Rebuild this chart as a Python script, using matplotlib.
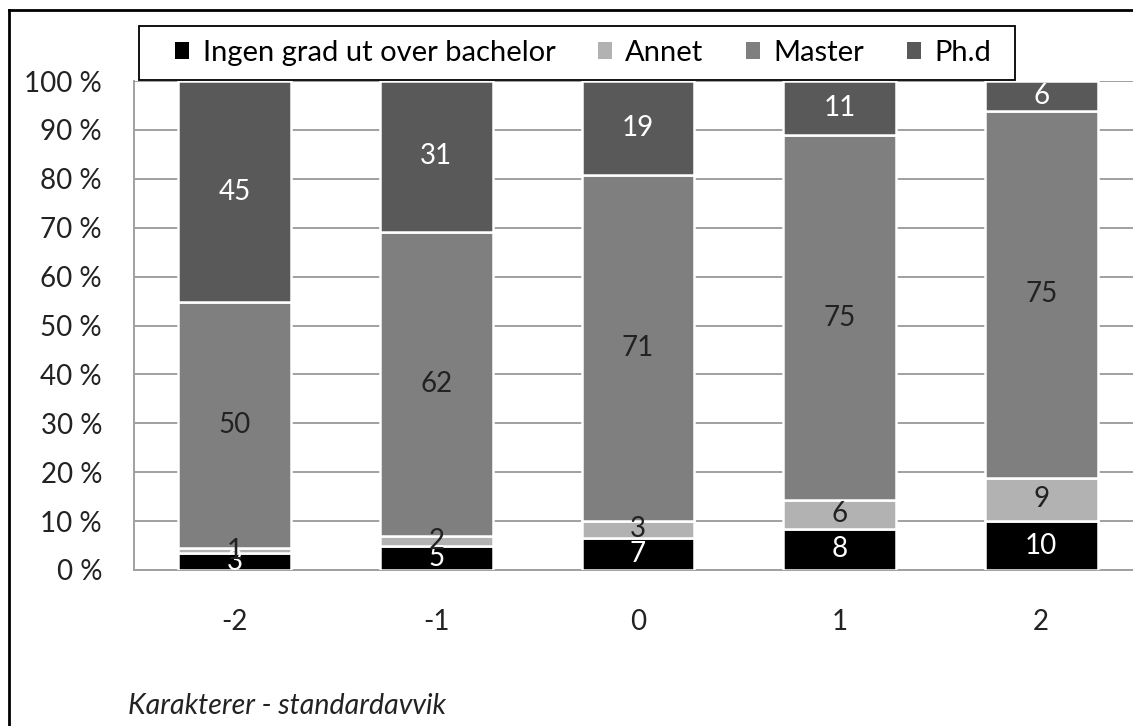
import matplotlib
matplotlib.use("Agg")
import matplotlib.pyplot as plt
from matplotlib.patches import Patch, Rectangle
from matplotlib.lines import Line2D
import numpy as np

categories = ["-2", "-1", "0", "1", "2"]
ingen = [3.4, 5.0, 6.6, 8.4, 10.0]
annet = [1.1, 1.9, 3.4, 5.9, 8.9]
master = [50.3, 62.3, 70.8, 74.6, 75.0]
phd = [45.2, 30.8, 19.2, 11.1, 6.1]
series_names = ["Ingen grad ut over bachelor", "Annet", "Master", "Ph.d"]
colors = ["#000000", "#b2b2b2", "#7f7f7f", "#595959"]
label_colors = ["white", "#222222", "#222222", "white"]
yticks = [0, 10, 20, 30, 40, 50, 60, 70, 80, 90, 100]
xlabel = "Karakterer - standardavvik"

FONT = "Lato"
FS = 20
FSL = 21
plt.rcParams['font.family'] = [FONT, 'DejaVu Sans']

W, H = 1133, 726
fig = plt.figure(figsize=(W / 100, H / 100), dpi=100)
left, right, top, bottom = 134, 1142, 81, 570
ax = fig.add_axes([left / W, 1 - bottom / H, (right - left) / W, (bottom - top) / H])

x = np.arange(len(categories))
data = [ingen, annet, master, phd]
base = np.zeros(len(categories))
for vals, col, lc in zip(data, colors, label_colors):
    vals = np.array(vals)
    ax.bar(x, vals, bottom=base, width=0.56, color=col, edgecolor="white",
           linewidth=1.8, zorder=3)
    for xi, v, b in zip(x, vals, base):
        ax.text(xi, b + v / 2, f"{round(v):d}", ha="center", va="center",
                color=lc, fontsize=FS, zorder=4)
    base = base + vals

ax.set_xlim(-0.5, len(categories) - 0.5)
ax.set_ylim(0, 100)
ax.set_yticks(yticks)
ax.set_yticklabels([f"{t} %" for t in yticks], fontsize=FS, color="#222222")
ax.set_xticks(x)
ax.set_xticklabels(categories, fontsize=FS, color="#222222")
ax.tick_params(axis="both", length=0)
ax.tick_params(axis="x", pad=28)
ax.tick_params(axis="y", pad=23)
ax.grid(axis="y", color="#a0a0a0", linewidth=1.4, zorder=0)
ax.set_axisbelow(True)
for s in ["top", "right"]:
    ax.spines[s].set_visible(False)
for s in ["left", "bottom"]:
    ax.spines[s].set_color("#a0a0a0")
    ax.spines[s].set_linewidth(1.4)

fig.text(128 / W, 1 - 706 / H, xlabel, style="italic", fontsize=20.5,
         va="center", ha="left", color="#222222")

# legend box
fig.add_artist(Rectangle((139 / W, 1 - 80 / H), (1015 - 139) / W, (80 - 26) / H,
                         transform=fig.transFigure, facecolor="white",
                         edgecolor="black", linewidth=1.3, zorder=5))
handles = [Patch(facecolor=c, edgecolor="none") for c in colors]
leg = fig.legend(handles, series_names, loc="center", ncol=4,
                 bbox_to_anchor=(583 / W, 1 - 53 / H), fontsize=FSL,
                 frameon=False, handlelength=0.5, handleheight=0.5,
                 handletextpad=0.45, columnspacing=1.45, borderpad=0.3,
                 borderaxespad=0)
leg.set_zorder(6)

# outer border
fig.add_artist(Line2D([9 / W, 1.0], [1 - 10 / H, 1 - 10 / H], color="black",
                      linewidth=2, transform=fig.transFigure))
fig.add_artist(Line2D([9 / W, 9 / W], [0, 1 - 10 / H], color="black",
                      linewidth=2, transform=fig.transFigure))

fig.savefig("out.png", dpi=100)
